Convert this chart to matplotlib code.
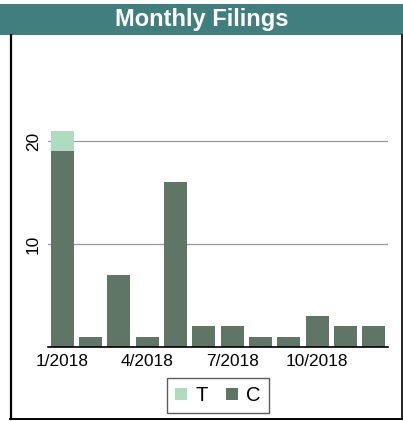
import matplotlib.pyplot as plt
from matplotlib.patches import Rectangle
from matplotlib.lines import Line2D

plt.rcParams['font.family'] = ['Liberation Sans', 'DejaVu Sans']

months = ['1/2018', '2/2018', '3/2018', '4/2018', '5/2018', '6/2018',
          '7/2018', '8/2018', '9/2018', '10/2018', '11/2018', '12/2018']
c_counts = [19, 1, 7, 1, 16, 2, 2, 1, 1, 3, 2, 2]
t_counts = [2, 0, 0, 0, 0, 0, 0, 0, 0, 0, 0, 0]

c_color = '#5f7566'
t_color = '#addcc1'
bar_color = '#417f7e'

W, H = 403, 421
fig = plt.figure(figsize=(W / 100, H / 100), dpi=100)

# title bar
fig.patches.append(Rectangle((0, 1 - 35 / H), 1, 31 / H, transform=fig.transFigure,
                             facecolor=bar_color, edgecolor='none'))
fig.text(0.5, 1 - 19.5 / H, 'Monthly Filings', color='white', fontsize=17,
         fontweight='bold', ha='center', va='center')

# frame around the chart
fig.lines.append(Line2D([10.5 / W, 10.5 / W], [1 - 35 / H, 1 - 419 / H],
                        transform=fig.transFigure, color='black', lw=1.6))
fig.lines.append(Line2D([10 / W, 401.5 / W], [1 - 419 / H, 1 - 419 / H],
                        transform=fig.transFigure, color='black', lw=1.4))
fig.lines.append(Line2D([401.5 / W, 401.5 / W], [1 - 35 / H, 1 - 419 / H],
                        transform=fig.transFigure, color='black', lw=1.2))

ax = fig.add_axes([48 / W, 1 - 347 / H, 340 / W, 307 / H])
x = range(len(months))
ax.bar(x, c_counts, width=0.82, color=c_color, label='C', zorder=2)
ax.bar(x, t_counts, width=0.82, bottom=c_counts, color=t_color, label='T', zorder=2)

ax.set_xlim(-0.5, 11.5)
ax.set_ylim(0, 307 / 10.3)
ax.set_yticks([10, 20])
ax.set_yticklabels(['10', '20'], rotation=90, va='center')
ax.set_xticks([0, 3, 6, 9])
ax.set_xticklabels([months[i] for i in [0, 3, 6, 9]])
ax.tick_params(axis='both', length=0, labelsize=12.4)
ax.tick_params(axis='y', pad=5)
ax.tick_params(axis='x', pad=5)
ax.grid(axis='y', color='#999999', lw=0.9, zorder=0)
for s in ['top', 'right', 'left']:
    ax.spines[s].set_visible(False)
ax.spines['bottom'].set_color('black')
ax.spines['bottom'].set_linewidth(1.2)
ax.spines['bottom'].set_zorder(3)

handles, labels = ax.get_legend_handles_labels()
leg = fig.legend(handles[::-1], labels[::-1], loc='center',
                 bbox_to_anchor=(218 / W, 1 - 395.5 / H), ncol=2, fontsize=14.5,
                 frameon=True, fancybox=False, edgecolor='#333333',
                 handlelength=0.6, handleheight=0.6, handletextpad=0.4,
                 columnspacing=0.9, borderpad=0.4, borderaxespad=0)
leg.get_frame().set_linewidth(1.0)

fig.savefig('out.png', dpi=100)
